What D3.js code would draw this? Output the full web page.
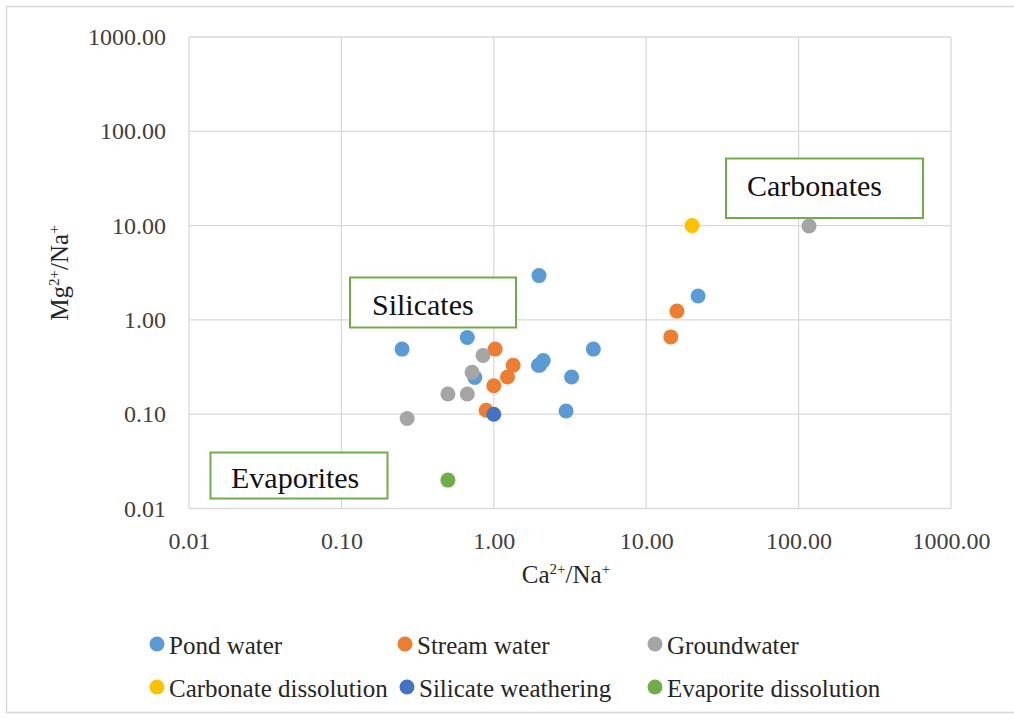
<!DOCTYPE html>
<html>
<head>
<meta charset="utf-8">
<script src="https://cdn.jsdelivr.net/npm/d3@7"></script>
<style>
  html, body { margin: 0; padding: 0; background: #fff; }
  svg { display: block; }
</style>
</head>
<body>
<svg id="chart" width="1014" height="719"></svg>
<script>
// Ca2+/Na+ vs Mg2+/Na+ ratios per sample group
const pondCa    = [0.25, 0.67, 0.75, 1.98, 2.11, 1.96, 4.5, 3.24, 2.98, 2.0, 21.9];
const pondMg    = [0.49, 0.65, 0.245, 2.95, 0.37, 0.33, 0.49, 0.248, 0.108, 0.33, 1.79];
const streamCa  = [1.02, 1.34, 1.23, 1.0, 0.89, 15.9, 14.5];
const streamMg  = [0.49, 0.33, 0.248, 0.2, 0.11, 1.24, 0.66];
const groundCa  = [0.85, 0.72, 0.50, 0.67, 0.27, 117];
const groundMg  = [0.42, 0.278, 0.164, 0.164, 0.09, 9.9];
const carbCa    = [20];
const carbMg    = [10];
const silCa     = [1.0];
const silMg     = [0.1];
const evapCa    = [0.5];
const evapMg    = [0.02];

const seriesNames  = ["Pond water", "Stream water", "Groundwater",
                      "Carbonate dissolution", "Silicate weathering", "Evaporite dissolution"];
const seriesColors = ["#5B9BD5", "#ED7D31", "#A5A5A5", "#FFC000", "#4472C4", "#70AD47"];
const seriesX = [pondCa, streamCa, groundCa, carbCa, silCa, evapCa];
const seriesY = [pondMg, streamMg, groundMg, carbMg, silMg, evapMg];

const tickValues = [0.01, 0.1, 1, 10, 100, 1000];
const regionLabels = ["Silicates", "Carbonates", "Evaporites"];

const SERIF = '"Liberation Serif", "Times New Roman", "DejaVu Serif", serif';

const svg = d3.select("#chart");

// outer frame (top, left, bottom edges)
svg.append("path")
  .attr("d", "M1014,6.5 H6.5 V712.5 H1014")
  .attr("fill", "none")
  .attr("stroke", "#d9d9d9")
  .attr("stroke-width", 1.5);

const x = d3.scaleLog().domain([0.01, 1000]).range([189, 951]);
const y = d3.scaleLog().domain([0.01, 1000]).range([508.5, 37]);
const fmt = v => v === 0.01 ? "0.01" : d3.format(".2f")(v);

// gridlines
const grid = svg.append("g");
grid.selectAll(".vx").data(tickValues).join("line")
  .attr("x1", d => x(d)).attr("x2", d => x(d))
  .attr("y1", y(1000)).attr("y2", y(0.01))
  .attr("stroke", "#d9d9d9").attr("stroke-width", 1.3);
grid.selectAll(".hy").data(tickValues).join("line")
  .attr("x1", x(0.01)).attr("x2", x(1000))
  .attr("y1", d => y(d)).attr("y2", d => y(d))
  .attr("stroke", "#d9d9d9").attr("stroke-width", 1.3);

// axes (labels only, Excel-style)
const xAxis = svg.append("g")
  .attr("transform", `translate(0,${y(0.01)})`)
  .call(d3.axisBottom(x).tickValues(tickValues).tickFormat(fmt).tickSize(0).tickPadding(23));
xAxis.attr("font-family", null).attr("font-size", null);
xAxis.select(".domain").remove();
xAxis.selectAll("text").style("font-family", SERIF).style("font-size", "24px").attr("fill", "#404040");

const yAxis = svg.append("g")
  .attr("transform", `translate(${x(0.01)},0)`)
  .call(d3.axisLeft(y).tickValues(tickValues).tickFormat(fmt).tickSize(0).tickPadding(23));
yAxis.attr("font-family", null).attr("font-size", null);
yAxis.select(".domain").remove();
yAxis.selectAll("text").style("font-family", SERIF).style("font-size", "24px").attr("fill", "#404040");

// region annotation boxes
const boxes = [
  { label: regionLabels[0], x0: 350, y0: 277.5, w: 166, h: 50, tx: 372, ty: 315 },
  { label: regionLabels[1], x0: 726, y0: 158.5, w: 197, h: 59.5, tx: 747, ty: 196 },
  { label: regionLabels[2], x0: 210.5, y0: 452.5, w: 177, h: 46, tx: 231, ty: 488 }
];
const ann = svg.append("g");
ann.selectAll("rect").data(boxes).join("rect")
  .attr("x", d => d.x0).attr("y", d => d.y0)
  .attr("width", d => d.w).attr("height", d => d.h)
  .attr("fill", "#fff").attr("stroke", "#70AD47").attr("stroke-width", 2);
ann.selectAll("text").data(boxes).join("text")
  .attr("x", d => d.tx).attr("y", d => d.ty)
  .style("font-family", SERIF).style("font-size", "30px").attr("fill", "#111")
  .text(d => d.label);

// data points
const pts = svg.append("g");
seriesNames.forEach((name, i) => {
  const data = seriesX[i].map((v, j) => ({ cx: v, cy: seriesY[i][j] }));
  pts.append("g").selectAll("circle").data(data).join("circle")
    .attr("cx", d => x(d.cx)).attr("cy", d => y(d.cy))
    .attr("r", 7.5).attr("fill", seriesColors[i]);
});

// axis titles
function ionTitle(sel, a) {
  sel.append("tspan").text(a);
  sel.append("tspan").style("font-size", "15px").attr("dy", -9).text("2+");
  sel.append("tspan").attr("dy", 9).text("/Na");
  sel.append("tspan").style("font-size", "15px").attr("dy", -9).text("+");
}
const xt = svg.append("text")
  .attr("x", 566).attr("y", 583)
  .attr("text-anchor", "middle")
  .style("font-family", SERIF).style("font-size", "25px").attr("fill", "#262626");
ionTitle(xt, "Ca");

const yt = svg.append("text")
  .attr("transform", `translate(68,273) rotate(-90)`)
  .attr("text-anchor", "middle")
  .style("font-family", SERIF).style("font-size", "25px").attr("fill", "#262626");
ionTitle(yt, "Mg");

// legend: two rows of three
const legendPos = [
  [157, 645], [405, 645], [655, 645],
  [157, 688], [407, 688], [655, 688]
];
const lg = svg.append("g");
seriesNames.forEach((name, i) => {
  const [lx, ly] = legendPos[i];
  const g = lg.append("g").attr("transform", `translate(${lx},${ly})`);
  g.append("circle").attr("r", 7.5).attr("cx", 0).attr("cy", -1).attr("fill", seriesColors[i]);
  g.append("text").attr("x", 12).attr("y", 8.5)
    .style("font-family", SERIF).style("font-size", "25px").attr("fill", "#262626")
    .text(name);
});
</script>
</body>
</html>
